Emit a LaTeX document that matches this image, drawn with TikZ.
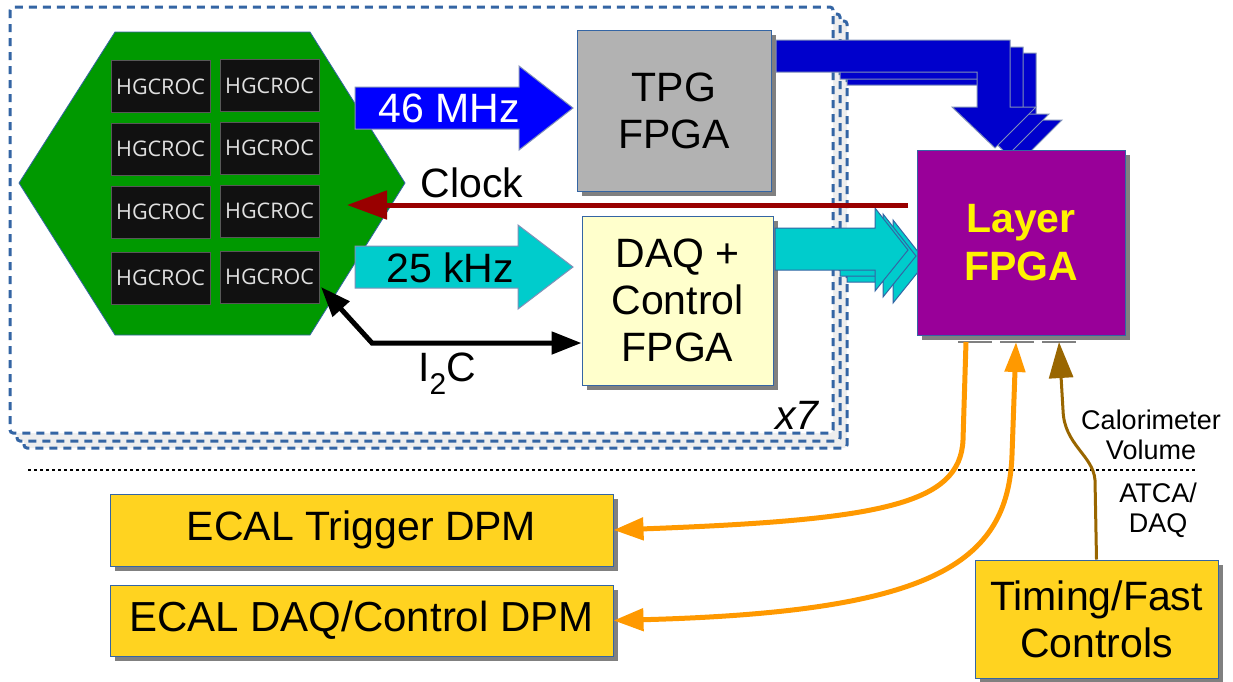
\documentclass[tikz,border=0pt]{standalone}
\usepackage{fontspec}
\setmainfont{Liberation Sans}
\newfontfamily\chipfont{Open Sans}
\usetikzlibrary{arrows.meta,shadows,calc}

\definecolor{frameblue}{HTML}{3465A4}
\definecolor{framefill}{HTML}{EEEEEE}
\definecolor{boardgreen}{HTML}{009900}
\definecolor{chipblack}{HTML}{111111}
\definecolor{chiptext}{HTML}{E0E0E0}
\definecolor{fastblue}{HTML}{0000FF}
\definecolor{trigblue}{HTML}{0000CC}
\definecolor{daqcyan}{HTML}{00CCCC}
\definecolor{tpggray}{HTML}{B2B2B2}
\definecolor{daqcream}{HTML}{FFFFCC}
\definecolor{layerpurple}{HTML}{990099}
\definecolor{dpmyellow}{HTML}{FFD320}
\definecolor{clockred}{HTML}{990000}
\definecolor{linkorange}{HTML}{FF9900}
\definecolor{timingbrown}{HTML}{996600}
\definecolor{shadowgray}{HTML}{808080}
\definecolor{arrowedge}{HTML}{8090B8}

\begin{document}
\begin{tikzpicture}[x=1pt,y=-1pt,
  framebox/.style={draw=frameblue, line width=3pt, dash pattern=on 8pt off 6pt, rounded corners=3pt},
  blockbox/.style={draw=frameblue, line width=1pt, inner sep=0pt, align=center,
    drop shadow={shadow xshift=5pt, shadow yshift=-5pt, fill=shadowgray, opacity=1},
    font=\fontsize{41}{47}\selectfont},
  chipbox/.style={fill=chipblack, draw=chipblack!70, line width=0.8pt, inner sep=0pt,
    minimum width=99pt, minimum height=52pt, text=chiptext, font=\chipfont\fontsize{21.5}{25}\selectfont},
  blockarrow/.style={draw=arrowedge, line width=1pt},
  label/.style={inner sep=0pt, font=\fontsize{41}{47}\selectfont},
  smalllabel/.style={inner sep=0pt, align=center, font=\fontsize{27}{30}\selectfont},
  wire/.style={line width=5pt},
  port/.style={draw=shadowgray, line width=2pt}
]
\useasboundingbox (0,0) rectangle (1233,681);

% stacked front-end frames (seven copies)
\draw[framebox, fill=framefill] (24,21) rectangle (847,448);
\draw[framebox, fill=framefill] (17,14) rectangle (840,441);
\draw[framebox, fill=white] (10,7) rectangle (833,433);
\node[label, font=\itshape\fontsize{41}{47}\selectfont] (copies) at (797,415) {x7};

% hexagonal module with the readout chips
\fill[boardgreen, draw=frameblue, line width=0.8pt]
  (19,183) -- (115,32) -- (310,32) -- (405,183) -- (310,335) -- (115,335) -- cycle;
\foreach \r/\y in {1/86.5, 2/149, 3/212, 4/278} {
  \node[chipbox] (chip\r a) at (160.5,\y) {HGCROC};
  \node[chipbox] (chip\r b) at (269.5,\y-1) {HGCROC};
}

% front-end FPGAs
\node[blockbox, fill=tpggray, minimum width=194pt, minimum height=161pt] (tpg) at (674,110.5) {TPG\\FPGA};
\node[blockbox, fill=daqcream, minimum width=191pt, minimum height=169pt] (daq) at (677.5,300.5) {DAQ +\\Control\\FPGA};

% trigger-primitive and readout data paths
\draw[blockarrow, fill=fastblue] (355,87) -- (519,87) -- (519,66) -- (573,108) -- (519,150) -- (519,129) -- (355,129) -- cycle;
\node[label, text=white] (fastlbl) at (449,108) {46 MHz};
\draw[blockarrow, fill=daqcyan] (355,246) -- (518,246) -- (518,225) -- (573,267) -- (518,309) -- (518,288) -- (355,288) -- cycle;
\node[label] (slowlbl) at (450,268) {25 kHz};

% trigger links to the layer FPGA (stacked for the seven modules)
\draw[blockarrow, fill=trigblue] (847,53) -- (1036,53) -- (1036,120) -- (1062,120) -- (1021,161) -- (978,120) -- (1003,120) -- (1003,85) -- (847,85) -- cycle;
\draw[blockarrow, fill=trigblue] (840,47) -- (1023,47) -- (1023,114) -- (1049,114) -- (1008,155) -- (965,114) -- (990,114) -- (990,79) -- (840,79) -- cycle;
\draw[blockarrow, fill=trigblue] (776,40) -- (1010,40) -- (1010,107) -- (1036,107) -- (995,148) -- (952,107) -- (977,107) -- (977,72) -- (776,72) -- cycle;

% readout links to the layer FPGA
\draw[blockarrow, draw=frameblue, fill=daqcyan] (847,240) -- (893,240) -- (893,220) -- (926,262) -- (893,303) -- (893,282) -- (847,282) -- cycle;
\draw[blockarrow, draw=frameblue, fill=daqcyan] (840,234) -- (883,234) -- (883,214) -- (916,256) -- (883,297) -- (883,276) -- (840,276) -- cycle;
\draw[blockarrow, draw=frameblue, fill=daqcyan] (775,228) -- (875,228) -- (875,208) -- (908,250) -- (875,291) -- (875,270) -- (775,270) -- cycle;

% layer FPGA
\node[blockbox, fill=layerpurple, minimum width=208pt, minimum height=185pt,
  text=yellow, font=\bfseries\fontsize{41}{48}\selectfont] (layer) at (1021,242.5) {Layer\\FPGA};

% clock distribution
\coordinate (clockstart) at (908,205);
\coordinate (clockend) at (347,205);
\draw[wire, clockred, -{Triangle[length=40pt,width=28pt]}] (clockstart) -- (clockend);
\node[label] (clocklbl) at (472,183) {Clock};

% I2C control
\coordinate (i2cchip) at (321,287);
\coordinate (i2ccorner) at (372,343);
\draw[wire, black, {Triangle[length=30pt,width=22pt]}-{Triangle[length=30pt,width=22pt]}]
  (i2cchip) -- (i2ccorner) -- (daq.west |- i2ccorner);
\node[label] (i2clbl) at (447,374) {I\raisebox{-13pt}{\fontsize{30}{30}\selectfont 2}C};

% boundary between detector volume and back-end crates
\draw[line width=2pt, dash pattern=on 3pt off 3pt] (28,470) -- (1195,470);
\node[smalllabel] (calvol) at (1151,435) {Calorimeter\\Volume};
\node[smalllabel] (atca) at (1158,510) {ATCA/\\DAQ};

% back-end boards
\node[blockbox, fill=dpmyellow, minimum width=503pt, minimum height=72pt] (trigdpm) at (361.5,530) {ECAL Trigger DPM};
\node[blockbox, fill=dpmyellow, minimum width=503pt, minimum height=71pt, font=\fontsize{42}{47}\selectfont] (daqdpm) at (361.5,620.5) {ECAL DAQ/Control DPM};
\node[blockbox, fill=dpmyellow, minimum width=243pt, minimum height=118pt] (timing) at (1096.5,619) {Timing/Fast\\Controls};

% output ports of the layer FPGA
\coordinate (portA) at (966,342);
\coordinate (portB) at (1016,342);
\coordinate (portC) at (1059,342);
\draw[port] (958,342) -- (992,342);
\draw[port] (1000,342) -- (1034,342);
\draw[port] (1042,342) -- (1076,342);

% optical links
\draw[wire, linkorange, -{Triangle[length=30pt,width=22pt]}]
  (portA) -- (963,440) .. controls (960,505) and (880,520) .. (trigdpm.east);
\draw[wire, linkorange, {Triangle[length=30pt,width=22pt]}-{Triangle[length=30pt,width=20pt]}]
  (daqdpm.east) .. controls (930,612) and (1008,565) .. (1012,455) -- (portB);
\draw[line width=3pt, timingbrown, -{Triangle[length=36pt,width=24pt]}]
  (timing.north) -- (1095,480) .. controls (1093,455) and (1064,445) .. (1063,410) -- (portC);
\end{tikzpicture}
\end{document}
